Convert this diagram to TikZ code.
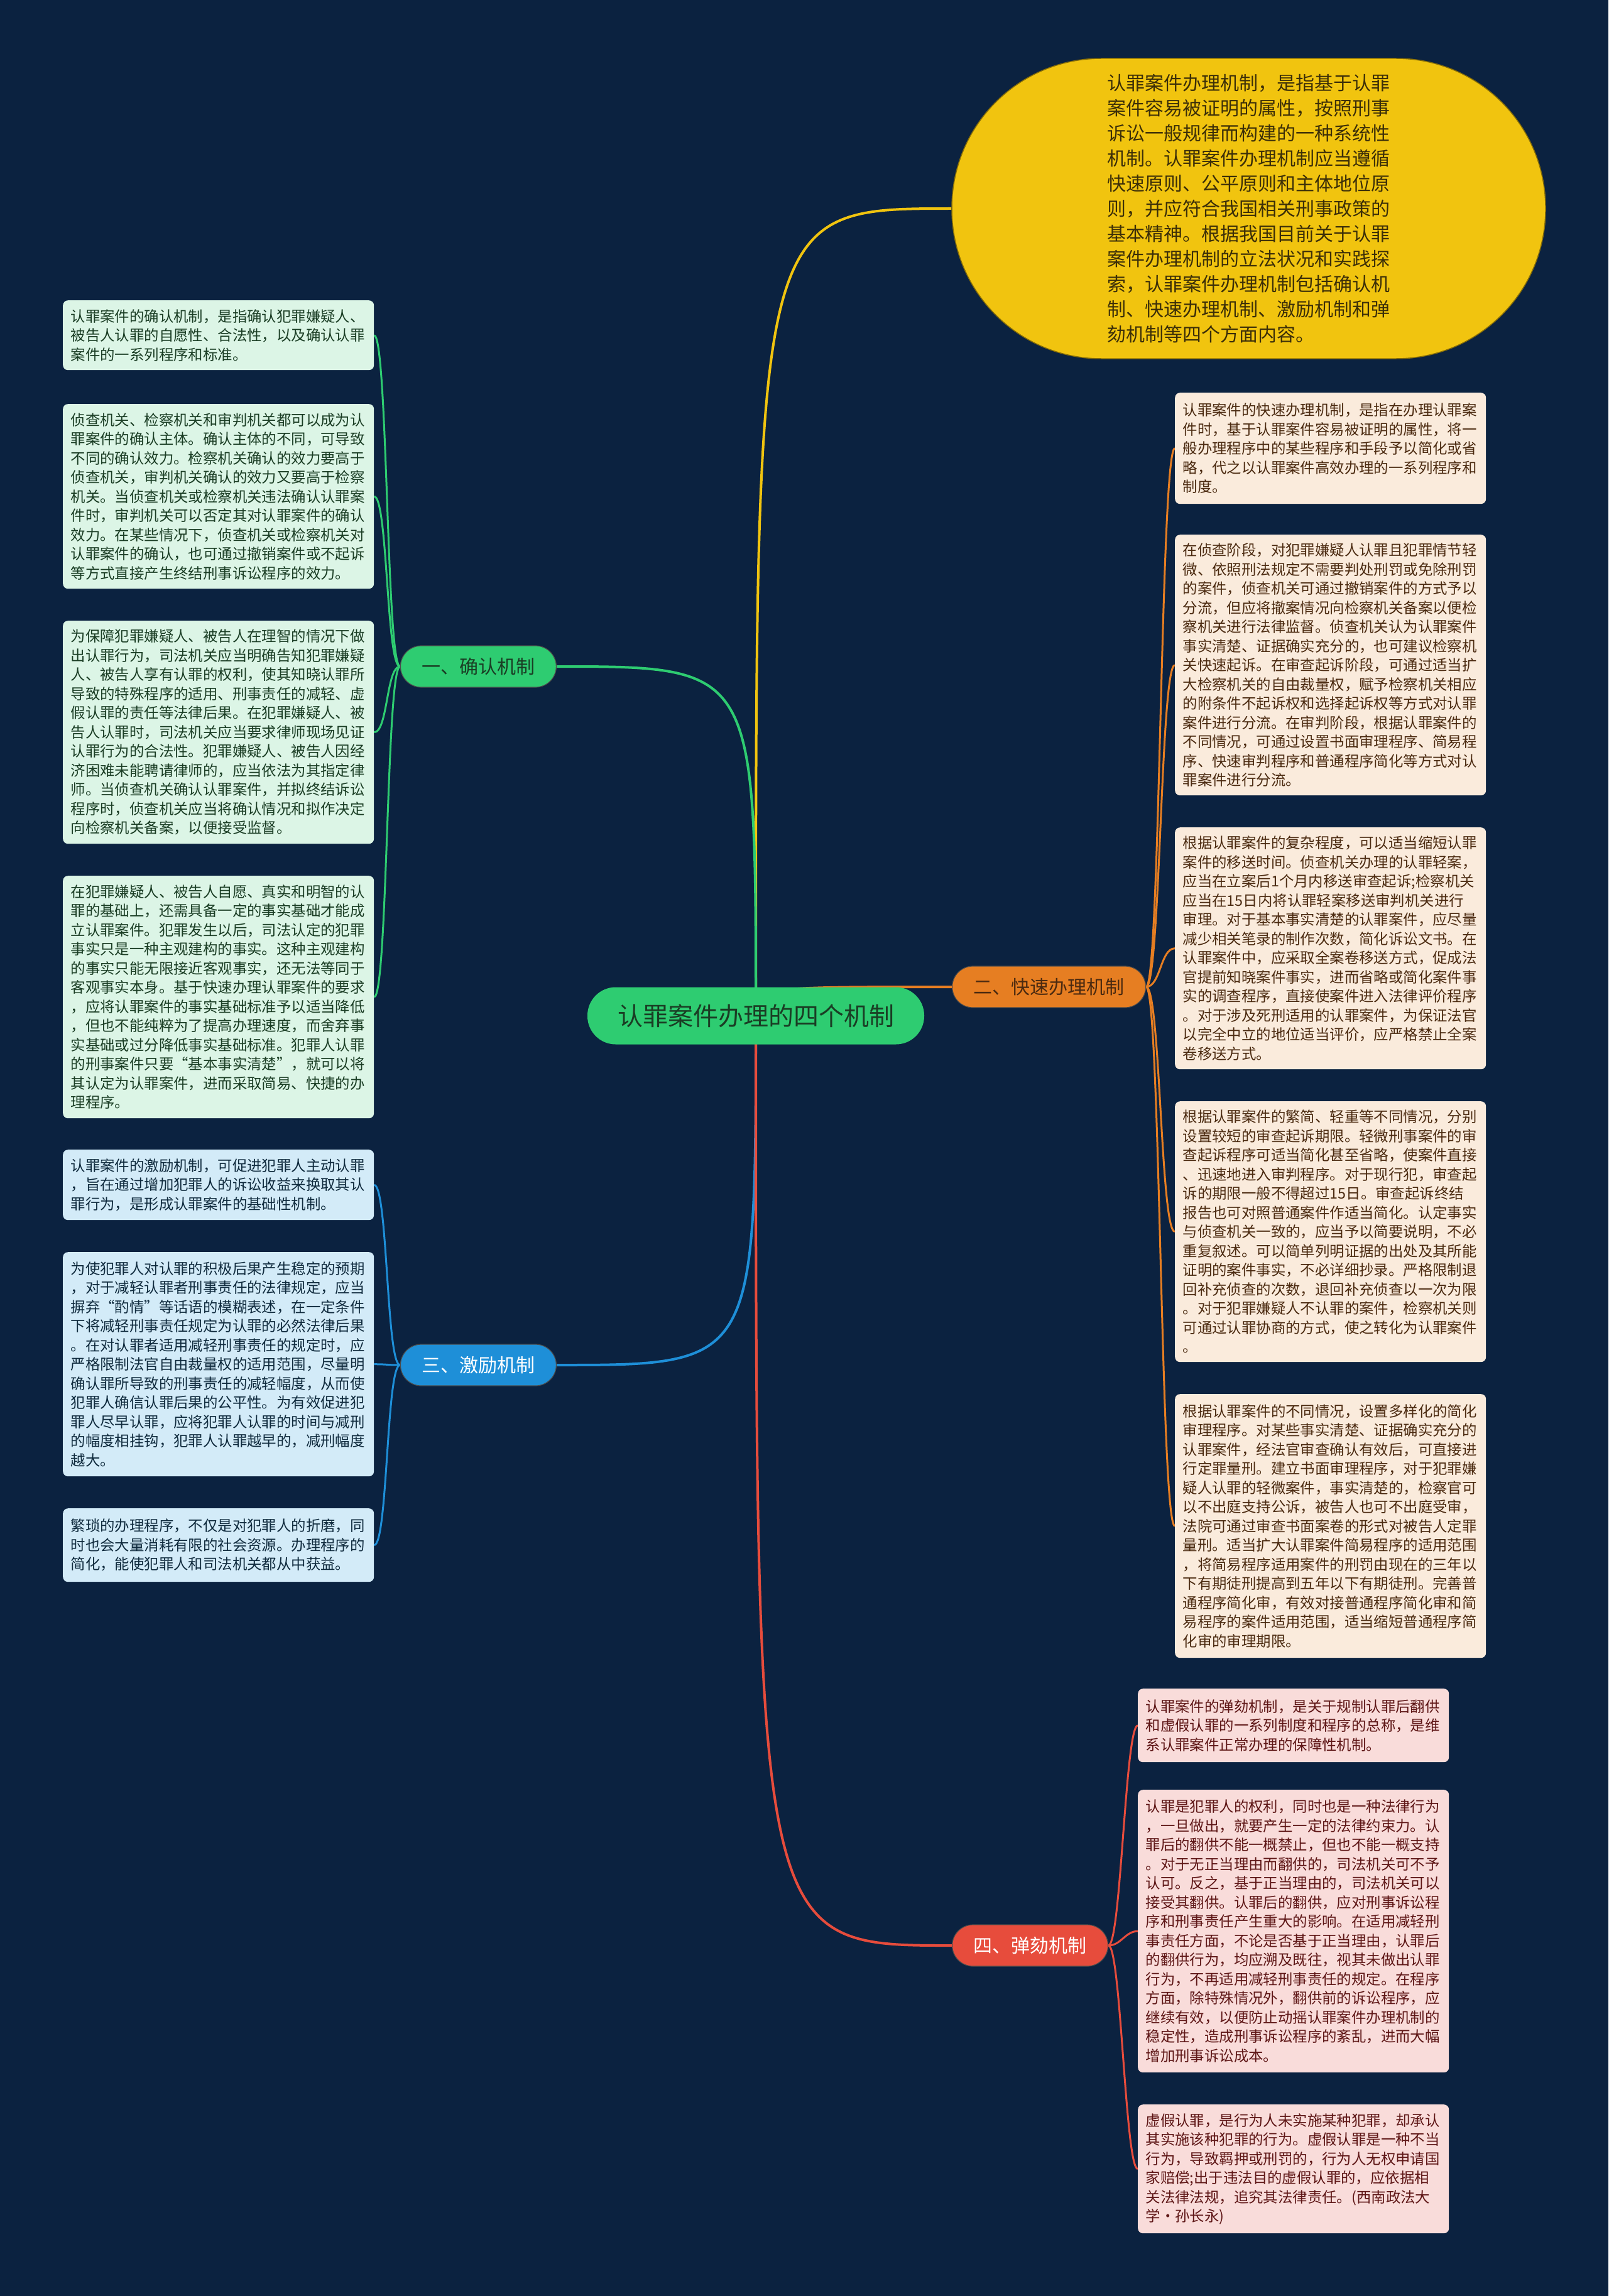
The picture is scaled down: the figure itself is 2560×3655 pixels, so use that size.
\documentclass[tikz,border=0pt]{standalone}
\usepackage{fontspec}
\setmainfont{Noto Sans CJK SC}
\usetikzlibrary{backgrounds}
\definecolor{bgc}{HTML}{0B2240}
\definecolor{ylw}{HTML}{F1C40F}
\definecolor{grn}{HTML}{2ECC71}
\definecolor{org}{HTML}{E67E22}
\definecolor{blu}{HTML}{1E8FD8}
\definecolor{red1}{HTML}{E74C3C}
\definecolor{gfill}{HTML}{DCF5E6}
\definecolor{gtext}{HTML}{1A3D24}
\definecolor{bfill}{HTML}{D3EBF8}
\definecolor{btext}{HTML}{0F2A3D}
\definecolor{ofill}{HTML}{FAEBDC}
\definecolor{otext}{HTML}{4B2A10}
\definecolor{rfill}{HTML}{F9DCDA}
\definecolor{rtext}{HTML}{5E1616}
\definecolor{ytext}{HTML}{3B2E08}
\begin{document}
\begin{tikzpicture}[x=1pt,y=-1pt,
  leaf/.style={anchor=north west, text width=470pt, align=left, inner xsep=12.5pt, inner ysep=0pt,
    rounded corners=8pt, font=\fontsize{23.4}{30.5}\selectfont},
  gleaf/.style={leaf, fill=gfill, text=gtext},
  bleaf/.style={leaf, fill=bfill, text=btext},
  oleaf/.style={leaf, fill=ofill, text=otext},
  rleaf/.style={leaf, fill=rfill, text=rtext},
  branch/.style={minimum height=66pt, inner xsep=34pt, inner ysep=0pt, rounded corners=33pt,
    font=\fontsize{30}{36}\selectfont, draw=black!70, line width=1.2pt},
  rootline/.style={line width=4pt},
  leafline/.style={line width=3pt}
]
\useasboundingbox (0,0) rectangle (2560,3655);

% top summary (stadium)
\node[fill=ylw, draw=ylw!55!black, line width=1.5pt, minimum width=945pt, minimum height=478pt,
  rounded corners=238pt, align=left, text=ytext, font=\fontsize{30}{40}\selectfont]
  (summary) at (1987.5,332) {认罪案件办理机制，是指基于认罪\\案件容易被证明的属性，按照刑事\\诉讼一般规律而构建的一种系统性\\机制。认罪案件办理机制应当遵循\\快速原则、公平原则和主体地位原\\则，并应符合我国相关刑事政策的\\基本精神。根据我国目前关于认罪\\案件办理机制的立法状况和实践探\\索，认罪案件办理机制包括确认机\\制、快速办理机制、激励机制和弹\\劾机制等四个方面内容。};

% root
\node[fill=grn, text=gtext, minimum height=91pt, inner xsep=48pt, inner ysep=0pt, rounded corners=45pt,
  font=\fontsize{40}{46}\selectfont] (root) at (1203,1617) {认罪案件办理的四个机制};

% branches
\node[branch, fill=grn, text=gtext, anchor=east] (b1) at (886,1061) {一、确认机制};
\node[branch, fill=org, text=otext, anchor=west] (b2) at (1515,1571) {二、快速办理机制};
\node[branch, fill=blu, text=white, anchor=east] (b3) at (886,2173) {三、激励机制};
\node[branch, fill=red1, text=white, anchor=west] (b4) at (1515,3097) {四、弹劾机制};

% left leaves (确认)
\node[gleaf, minimum height=111pt] (l1) at (100,478) {认罪案件的确认机制，是指确认犯罪嫌疑人、\\被告人认罪的自愿性、合法性，以及确认认罪\\案件的一系列程序和标准。};
\node[gleaf, minimum height=294pt] (l2) at (100,643) {侦查机关、检察机关和审判机关都可以成为认\\罪案件的确认主体。确认主体的不同，可导致\\不同的确认效力。检察机关确认的效力要高于\\侦查机关，审判机关确认的效力又要高于检察\\机关。当侦查机关或检察机关违法确认认罪案\\件时，审判机关可以否定其对认罪案件的确认\\效力。在某些情况下，侦查机关或检察机关对\\认罪案件的确认，也可通过撤销案件或不起诉\\等方式直接产生终结刑事诉讼程序的效力。};
\node[gleaf, minimum height=355pt] (l3) at (100,988) {为保障犯罪嫌疑人、被告人在理智的情况下做\\出认罪行为，司法机关应当明确告知犯罪嫌疑\\人、被告人享有认罪的权利，使其知晓认罪所\\导致的特殊程序的适用、刑事责任的减轻、虚\\假认罪的责任等法律后果。在犯罪嫌疑人、被\\告人认罪时，司法机关应当要求律师现场见证\\认罪行为的合法性。犯罪嫌疑人、被告人因经\\济困难未能聘请律师的，应当依法为其指定律\\师。当侦查机关确认认罪案件，并拟终结诉讼\\程序时，侦查机关应当将确认情况和拟作决定\\向检察机关备案，以便接受监督。};
\node[gleaf, minimum height=386pt] (l4) at (100,1394) {在犯罪嫌疑人、被告人自愿、真实和明智的认\\罪的基础上，还需具备一定的事实基础才能成\\立认罪案件。犯罪发生以后，司法认定的犯罪\\事实只是一种主观建构的事实。这种主观建构\\的事实只能无限接近客观事实，还无法等同于\\客观事实本身。基于快速办理认罪案件的要求\\，应将认罪案件的事实基础标准予以适当降低\\，但也不能纯粹为了提高办理速度，而舍弃事\\实基础或过分降低事实基础标准。犯罪人认罪\\的刑事案件只要“基本事实清楚”，就可以将\\其认定为认罪案件，进而采取简易、快捷的办\\理程序。};

% left leaves (激励)
\node[bleaf, minimum height=112pt] (l5) at (100,1830) {认罪案件的激励机制，可促进犯罪人主动认罪\\，旨在通过增加犯罪人的诉讼收益来换取其认\\罪行为，是形成认罪案件的基础性机制。};
\node[bleaf, minimum height=357pt] (l6) at (100,1993) {为使犯罪人对认罪的积极后果产生稳定的预期\\，对于减轻认罪者刑事责任的法律规定，应当\\摒弃“酌情”等话语的模糊表述，在一定条件\\下将减轻刑事责任规定为认罪的必然法律后果\\。在对认罪者适用减轻刑事责任的规定时，应\\严格限制法官自由裁量权的适用范围，尽量明\\确认罪所导致的刑事责任的减轻幅度，从而使\\犯罪人确信认罪后果的公平性。为有效促进犯\\罪人尽早认罪，应将犯罪人认罪的时间与减刑\\的幅度相挂钩，犯罪人认罪越早的，减刑幅度\\越大。};
\node[bleaf, minimum height=117pt] (l7) at (100,2401) {繁琐的办理程序，不仅是对犯罪人的折磨，同\\时也会大量消耗有限的社会资源。办理程序的\\简化，能使犯罪人和司法机关都从中获益。};

% right leaves (快速)
\node[oleaf, minimum height=177pt] (r1) at (1870,625) {认罪案件的快速办理机制，是指在办理认罪案\\件时，基于认罪案件容易被证明的属性，将一\\般办理程序中的某些程序和手段予以简化或省\\略，代之以认罪案件高效办理的一系列程序和\\制度。};
\node[oleaf, minimum height=415pt] (r2) at (1870,851) {在侦查阶段，对犯罪嫌疑人认罪且犯罪情节轻\\微、依照刑法规定不需要判处刑罚或免除刑罚\\的案件，侦查机关可通过撤销案件的方式予以\\分流，但应将撤案情况向检察机关备案以便检\\察机关进行法律监督。侦查机关认为认罪案件\\事实清楚、证据确实充分的，也可建议检察机\\关快速起诉。在审查起诉阶段，可通过适当扩\\大检察机关的自由裁量权，赋予检察机关相应\\的附条件不起诉权和选择起诉权等方式对认罪\\案件进行分流。在审判阶段，根据认罪案件的\\不同情况，可通过设置书面审理程序、简易程\\序、快速审判程序和普通程序简化等方式对认\\罪案件进行分流。};
\node[oleaf, minimum height=385pt] (r3) at (1870,1317) {根据认罪案件的复杂程度，可以适当缩短认罪\\案件的移送时间。侦查机关办理的认罪轻案，\\应当在立案后1个月内移送审查起诉;检察机关\\应当在15日内将认罪轻案移送审判机关进行\\审理。对于基本事实清楚的认罪案件，应尽量\\减少相关笔录的制作次数，简化诉讼文书。在\\认罪案件中，应采取全案卷移送方式，促成法\\官提前知晓案件事实，进而省略或简化案件事\\实的调查程序，直接使案件进入法律评价程序\\。对于涉及死刑适用的认罪案件，为保证法官\\以完全中立的地位适当评价，应严格禁止全案\\卷移送方式。};
\node[oleaf, minimum height=415pt] (r4) at (1870,1753) {根据认罪案件的繁简、轻重等不同情况，分别\\设置较短的审查起诉期限。轻微刑事案件的审\\查起诉程序可适当简化甚至省略，使案件直接\\、迅速地进入审判程序。对于现行犯，审查起\\诉的期限一般不得超过15日。审查起诉终结\\报告也可对照普通案件作适当简化。认定事实\\与侦查机关一致的，应当予以简要说明，不必\\重复叙述。可以简单列明证据的出处及其所能\\证明的案件事实，不必详细抄录。严格限制退\\回补充侦查的次数，退回补充侦查以一次为限\\。对于犯罪嫌疑人不认罪的案件，检察机关则\\可通过认罪协商的方式，使之转化为认罪案件\\。};
\node[oleaf, minimum height=420pt] (r5) at (1870,2219) {根据认罪案件的不同情况，设置多样化的简化\\审理程序。对某些事实清楚、证据确实充分的\\认罪案件，经法官审查确认有效后，可直接进\\行定罪量刑。建立书面审理程序，对于犯罪嫌\\疑人认罪的轻微案件，事实清楚的，检察官可\\以不出庭支持公诉，被告人也可不出庭受审，\\法院可通过审查书面案卷的形式对被告人定罪\\量刑。适当扩大认罪案件简易程序的适用范围\\，将简易程序适用案件的刑罚由现在的三年以\\下有期徒刑提高到五年以下有期徒刑。完善普\\通程序简化审，有效对接普通程序简化审和简\\易程序的案件适用范围，适当缩短普通程序简\\化审的审理期限。};

% right lower leaves (弹劾)
\node[rleaf, minimum height=117pt] (d1) at (1811,2688) {认罪案件的弹劾机制，是关于规制认罪后翻供\\和虚假认罪的一系列制度和程序的总称，是维\\系认罪案件正常办理的保障性机制。};
\node[rleaf, minimum height=450pt] (d2) at (1811,2849) {认罪是犯罪人的权利，同时也是一种法律行为\\，一旦做出，就要产生一定的法律约束力。认\\罪后的翻供不能一概禁止，但也不能一概支持\\。对于无正当理由而翻供的，司法机关可不予\\认可。反之，基于正当理由的，司法机关可以\\接受其翻供。认罪后的翻供，应对刑事诉讼程\\序和刑事责任产生重大的影响。在适用减轻刑\\事责任方面，不论是否基于正当理由，认罪后\\的翻供行为，均应溯及既往，视其未做出认罪\\行为，不再适用减轻刑事责任的规定。在程序\\方面，除特殊情况外，翻供前的诉讼程序，应\\继续有效，以便防止动摇认罪案件办理机制的\\稳定性，造成刑事诉讼程序的紊乱，进而大幅\\增加刑事诉讼成本。};
\node[rleaf, minimum height=205pt] (d3) at (1811,3350) {虚假认罪，是行为人未实施某种犯罪，却承认\\其实施该种犯罪的行为。虚假认罪是一种不当\\行为，导致羁押或刑罚的，行为人无权申请国\\家赔偿;出于违法目的虚假认罪的，应依据相\\关法律法规，追究其法律责任。(西南政法大\\学·孙长永)};

\begin{pgfonlayer}{background}
\fill[bgc] (0,0) rectangle (2560,3655);
% root connectors
\draw[rootline, ylw] (root.center) .. controls (root.center |- summary.west) and (root.center |- summary.west) .. (summary.west);
\draw[rootline, grn] (root.center) .. controls (root.center |- b1.east) and (root.center |- b1.east) .. (b1.east);
\draw[rootline, org] (root.center) .. controls (root.center |- b2.west) and (root.center |- b2.west) .. (b2.west);
\draw[rootline, blu] (root.center) .. controls (root.center |- b3.east) and (root.center |- b3.east) .. (b3.east);
\draw[rootline, red1] (root.center) .. controls (root.center |- b4.west) and (root.center |- b4.west) .. (b4.west);
% leaf connectors
\foreach \l in {l1,l2,l3,l4}
  \draw[leafline, grn] (b1.west) .. controls ([xshift=-22pt]b1.west) and ([xshift=22pt]\l.east) .. (\l.east);
\foreach \l in {l5,l6,l7}
  \draw[leafline, blu] (b3.west) .. controls ([xshift=-22pt]b3.west) and ([xshift=22pt]\l.east) .. (\l.east);
\foreach \l in {r1,r2,r3,r4,r5}
  \draw[leafline, org] (b2.east) .. controls ([xshift=23pt]b2.east) and ([xshift=-23pt]\l.west) .. (\l.west);
\foreach \l in {d1,d2,d3}
  \draw[leafline, red1] (b4.east) .. controls ([xshift=20pt]b4.east) and ([xshift=-20pt]\l.west) .. (\l.west);
\end{pgfonlayer}
\end{tikzpicture}
\end{document}
